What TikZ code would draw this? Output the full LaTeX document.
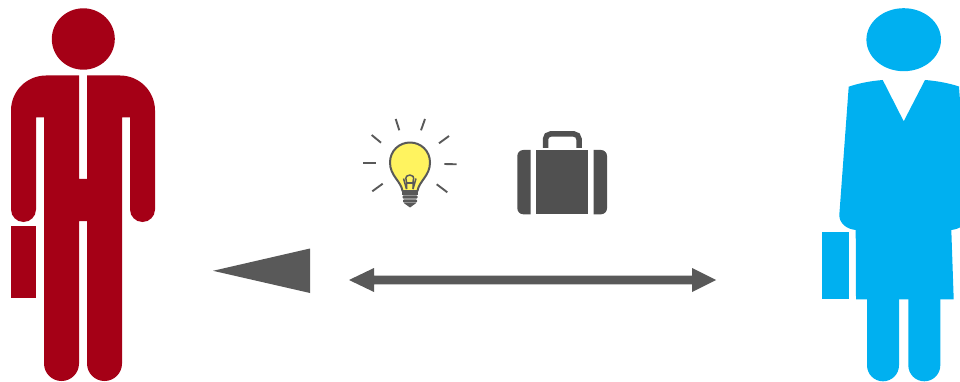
\documentclass[tikz,border=0pt]{standalone}
\definecolor{manred}{HTML}{A50016}
\definecolor{womanblue}{HTML}{00B0F0}
\definecolor{arrowgray}{HTML}{595959}
\definecolor{casegray}{HTML}{505050}
\definecolor{bulbyellow}{HTML}{FFF35F}
\tikzset{
  manfill/.style={fill=manred,draw=none},
  womanfill/.style={fill=womanblue,draw=none},
  arrowfill/.style={fill=arrowgray,draw=none},
  casefill/.style={fill=casegray,draw=none},
  ray/.style={draw=arrowgray,line width=1.9pt},
  bulbline/.style={draw=arrowgray,line width=2pt,line join=round},
  fil/.style={draw=arrowgray,line width=1.5pt,line join=round}
}
\begin{document}
\begin{tikzpicture}[x=1pt,y=-1pt]
\useasboundingbox (0,0) rectangle (960,382);
\clip (0,0) rectangle (960,382);
% man
\fill[manfill] (83.3,39) ellipse [x radius=31.5,y radius=30.7];
\fill[manfill] (46,75.5) -- (79,75.5) -- (79,179) -- (87,179) -- (87,75.5) -- (120,75.5)
  arc[start angle=-90,end angle=0,radius=35] -- (155,209.5)
  arc[start angle=0,end angle=180,radius=12.5] -- (130,117.5) -- (122,117.5)
  -- (122,363.5) arc[start angle=0,end angle=180,radius=17.5] -- (87,221) -- (79,221) -- (79,363.5)
  arc[start angle=0,end angle=180,radius=17.5] -- (44,117.5) -- (36,117.5) -- (36,209.5)
  arc[start angle=0,end angle=180,radius=12.5] -- (11,110.5) arc[start angle=180,end angle=270,radius=35] -- cycle;
\fill[manfill] (11,226) rectangle (36,298);
% woman
\fill[womanfill] (903.7,39.7) ellipse [x radius=37.3,y radius=31.5];
\fill[womanfill] (848.7,86.7) .. controls (858,83.5) and (870,81) .. (882.7,80) -- (903.7,121.3) -- (925,80)
  .. controls (938,81) and (950,83.5) .. (959,86.5) -- (968,215) .. controls (968,224) and (960,229) .. (951.3,230)
  -- (953.7,299.3) -- (856,299.3) -- (855.7,230) .. controls (846,229) and (839.3,223) .. (839.3,215) -- cycle;
\fill[womanfill] (867,295) -- (899,295) -- (899,365.3) arc[start angle=0,end angle=180,radius=16] -- cycle;
\fill[womanfill] (908.3,295) -- (940.3,295) -- (940.3,365.3) arc[start angle=0,end angle=180,radius=16] -- cycle;
\fill[womanfill] (822,232) rectangle (849,299);
% arrows
\fill[arrowfill] (213,270.8) -- (310,248.5) -- (310,293) -- cycle;
\fill[arrowfill] (349,280) -- (374,268) -- (374,275.6) -- (692,275.6) -- (692,268) -- (716,280)
  -- (692,292) -- (692,284.4) -- (374,284.4) -- (374,292) -- cycle;
% bulb rays
\draw[ray] (395.7,119) -- (399.3,130.3);
\draw[ray] (425,119) -- (421,130.3);
\draw[ray] (371.7,135) -- (381,142.7);
\draw[ray] (449,136) -- (439,143.3);
\draw[ray] (363.3,163) -- (375.7,163);
\draw[ray] (444.3,164) -- (456.7,164.3);
\draw[ray] (372.3,191.3) -- (382.7,183.7);
\draw[ray] (436.7,184.3) -- (447.3,192.3);
% bulb
\filldraw[bulbline,fill=bulbyellow] (402.5,191) .. controls (401,181) and (390,176) .. (390,162.5)
  .. controls (390,151) and (399,142.5) .. (410,142.5)
  .. controls (421,142.5) and (430,151) .. (430,162.5)
  .. controls (430,176) and (419,181) .. (417.5,191) -- cycle;
\draw[fil] (403.5,178.5) -- (406.5,189) (416,178.5) -- (413,189);
\draw[fil] (406.5,189) -- (406.5,182) .. controls (404.5,176) and (407.5,175) .. (409.8,175)
  .. controls (412,175) and (415,176) .. (413,182) -- (413,189);
\draw[fil] (406.5,183) -- (413,183);
\fill[arrowfill] (402,190) rectangle (418,194.5);
\fill[arrowfill,rounded corners=1pt] (402.5,195.4) rectangle (417.5,198.6);
\fill[arrowfill,rounded corners=1pt] (403,199.4) rectangle (417,202.6);
\fill[arrowfill] (404,203.2) -- (416,203.2) -- (410,207.5) -- cycle;
% case
\draw[casegray,line width=5.5pt,rounded corners=5pt] (545.5,148) -- (545.5,134) -- (579,134) -- (579,148);
\fill[casefill] (530.7,150) -- (523.3,150) arc[start angle=-90,end angle=-180,radius=6] -- (517.3,208.3)
  arc[start angle=180,end angle=90,radius=6] -- (530.7,214.3) -- cycle;
\fill[casefill] (536.3,150) rectangle (587.7,214.3);
\fill[casefill] (593.7,150) -- (601,150) arc[start angle=-90,end angle=0,radius=6] -- (607,208.3)
  arc[start angle=0,end angle=90,radius=6] -- (593.7,214.3) -- cycle;
\end{tikzpicture}
\end{document}
